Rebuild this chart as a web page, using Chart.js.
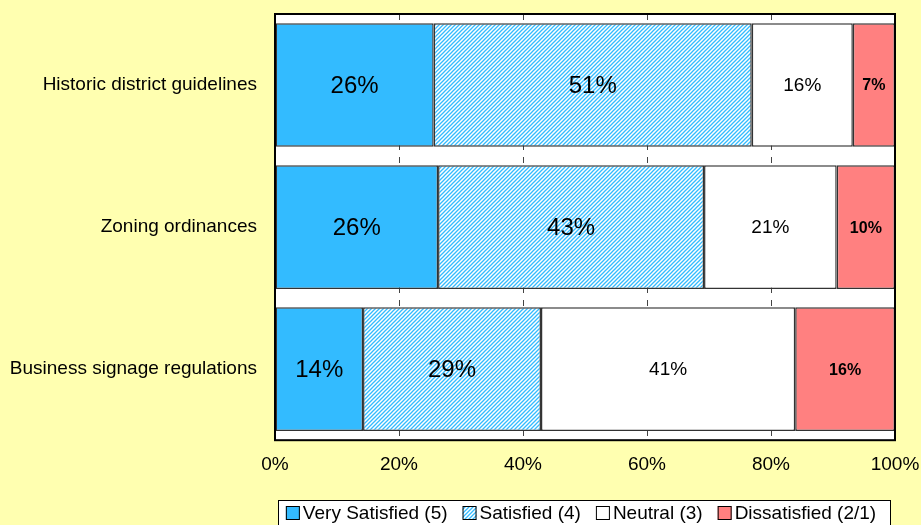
<!DOCTYPE html>
<html>
<head>
<meta charset="utf-8">
<script src="https://cdn.jsdelivr.net/npm/chart.js@4.4.1/dist/chart.umd.min.js"></script>
<style>
  html, body { margin: 0; padding: 0; background: #FFFFB0; }
  #wrap { width: 921px; height: 525px; }
</style>
</head>
<body>
<div id="wrap"><canvas id="Chart" width="921" height="525"></canvas></div>
<script>
// chart data
const categories = ['Historic district guidelines', 'Zoning ordinances', 'Business signage regulations'];
const seriesNames = ['Very Satisfied (5)', 'Satisfied (4)', 'Neutral (3)', 'Dissatisfied (2/1)'];
const verySatisfied = [25.6, 26.3, 14.2];
const satisfied = [51.3, 42.9, 28.7];
const neutral = [16.3, 21.4, 41.0];
const dissatisfied = [6.8, 9.4, 16.1];
const shownLabels = [
    ['26%', '26%', '14%'],
    ['51%', '43%', '29%'],
    ['16%', '21%', '41%'],
    ['7%', '10%', '16%']
];
const xTicks = [0, 20, 40, 60, 80, 100];

/* hatched fill for "Satisfied" */
function makeHatch() {
    const c = document.createElement('canvas');
    c.width = 4; c.height = 4;
    const g = c.getContext('2d');
    g.fillStyle = '#ffffff';
    g.fillRect(0, 0, 4, 4);
    g.strokeStyle = '#33BBFF';
    g.lineWidth = 1.3;
    g.beginPath();
    g.moveTo(0, 4); g.lineTo(4, 0);
    g.moveTo(-1, 1); g.lineTo(1, -1);
    g.moveTo(3, 5); g.lineTo(5, 3);
    g.stroke();
    return document.getElementById('Chart').getContext('2d').createPattern(c, 'repeat');
}
const hatch = makeHatch();

const labelFonts = [
    'normal 24px Arial, "Liberation Sans"',
    'normal 24px Arial, "Liberation Sans"',
    'normal 19px Arial, "Liberation Sans"',
    'bold 16px Arial, "Liberation Sans"'
];

/* white plot area + black frame */
const plotFrame = {
    id: 'plotFrame',
    beforeDraw(chart) {
        const a = chart.chartArea, ctx = chart.ctx;
        ctx.save();
        ctx.fillStyle = '#ffffff';
        ctx.fillRect(a.left, a.top, a.right - a.left, a.bottom - a.top);
        ctx.restore();
    },
    afterDatasetsDraw(chart) {
        const a = chart.chartArea, ctx = chart.ctx;
        ctx.save();
        ctx.strokeStyle = '#000000';
        ctx.lineWidth = 2;
        ctx.strokeRect(a.left, a.top, a.right - a.left, a.bottom - a.top);
        ctx.restore();
    }
};

/* percentage labels inside the bars */
const barLabels = {
    id: 'barLabels',
    afterDatasetsDraw(chart) {
        const ctx = chart.ctx;
        ctx.save();
        ctx.fillStyle = '#000000';
        ctx.textAlign = 'center';
        ctx.textBaseline = 'middle';
        chart.data.datasets.forEach((ds, i) => {
            const meta = chart.getDatasetMeta(i);
            ctx.font = labelFonts[i];
            meta.data.forEach((bar, j) => {
                const cx = (bar.x + bar.base) / 2;
                ctx.fillText(shownLabels[i][j], cx, bar.y + 1);
            });
        });
        ctx.restore();
    }
};

/* boxed legend under the plot */
const boxLegend = {
    id: 'boxLegend',
    afterDraw(chart) {
        const ctx = chart.ctx;
        ctx.save();
        ctx.font = 'normal 19px Arial, "Liberation Sans"';
        const box = 14, gap = 3, itemGap = 15;
        const widths = chart.data.datasets.map(ds => box + gap + ctx.measureText(ds.label).width);
        const total = widths.reduce((s, w) => s + w, 0) + itemGap * (widths.length - 1);
        const left = 278, right = 890;
        let x = (left + right) / 2 - total / 2 - 3;
        const y = 513;
        ctx.strokeStyle = '#000000';
        ctx.lineWidth = 1;
        ctx.fillStyle = '#ffffff';
        ctx.fillRect(left, 500.5, right - left, 30);
        ctx.strokeRect(left + 0.5, 500.5, right - left, 30);
        chart.data.datasets.forEach((ds, i) => {
            ctx.fillStyle = ds.backgroundColor;
            ctx.fillRect(x, y - 7, box, box);
            ctx.strokeStyle = '#000000';
            ctx.strokeRect(x + 0.5, y - 6.5, box - 1, box - 1);
            ctx.fillStyle = '#000000';
            ctx.textBaseline = 'middle';
            ctx.textAlign = 'left';
            ctx.fillText(ds.label, x + box + gap, y + 1);
            x += widths[i] + itemGap;
        });
        ctx.restore();
    }
};

const ctx = document.getElementById('Chart').getContext('2d');
const myChart = new Chart(ctx, {
    type: 'bar',
    data: {
        labels: categories,
        datasets: [
            { label: seriesNames[0], data: verySatisfied, backgroundColor: '#33BBFF' },
            { label: seriesNames[1], data: satisfied, backgroundColor: hatch },
            { label: seriesNames[2], data: neutral, backgroundColor: '#ffffff' },
            { label: seriesNames[3], data: dissatisfied, backgroundColor: '#FF8080' }
        ].map(d => Object.assign(d, {
            borderColor: '#333333',
            borderWidth: 1.5,
            borderSkipped: false,
            barPercentage: 0.87,
            categoryPercentage: 1.0
        }))
    },
    options: {
        indexAxis: 'y',
        responsive: false,
        animation: false,
        layout: {
            padding: { top: 14, right: 26, bottom: 36, left: 0 }
        },
        scales: {
            x: {
                stacked: true,
                min: 0,
                max: 100,
                afterBuildTicks: axis => {
                    axis.ticks = xTicks.map(v => ({ value: v }));
                },
                afterFit: axis => {
                    axis.paddingLeft = 0;
                    axis.paddingRight = 0;
                },
                ticks: {
                    callback: v => v + '%',
                    color: '#000000',
                    font: { family: 'Arial, "Liberation Sans"', size: 19 },
                    padding: 13,
                    maxRotation: 0
                },
                grid: {
                    color: '#444444',
                    lineWidth: 1,
                    drawTicks: false
                },
                border: { display: false, dash: [6, 7] }
            },
            y: {
                stacked: true,
                afterFit: axis => {
                    axis.width = 275;
                    axis.paddingTop = 0;
                    axis.paddingBottom = 0;
                },
                ticks: {
                    color: '#000000',
                    font: { family: 'Arial, "Liberation Sans"', size: 19 },
                    padding: 10
                },
                grid: { display: false },
                border: { display: false }
            }
        },
        plugins: {
            legend: { display: false },
            tooltip: { enabled: false }
        }
    },
    plugins: [plotFrame, barLabels, boxLegend]
});
</script>
</body>
</html>
